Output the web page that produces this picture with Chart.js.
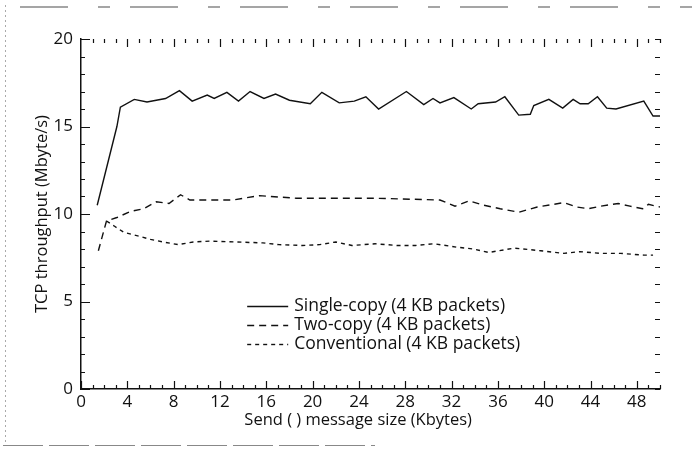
<!DOCTYPE html>
<html>
<head>
<meta charset="utf-8">
<script src="https://cdn.jsdelivr.net/npm/chart.js@4.4.1/dist/chart.umd.min.js"></script>
<style>
  html, body { margin: 0; padding: 0; background: #fff; }
  canvas { display: block; }
</style>
</head>
<body>
<canvas id="myChart" width="692" height="449"></canvas>
<script>
// values (x in Kbytes, y in Mbyte/s)
const singleX = [1.4, 3.1, 3.4, 4.6, 5.7, 7.3, 8.5, 9.6, 10.9, 11.5, 12.6, 13.6, 14.6, 15.8, 16.8, 18.0, 19.8, 20.8, 22.3, 23.6, 24.6, 25.7, 28.1, 29.6, 30.4, 31.0, 32.2, 33.7, 34.3, 35.8, 36.6, 37.8, 38.8, 39.1, 40.4, 41.6, 42.5, 43.1, 43.8, 44.6, 45.4, 46.2, 48.6, 49.4, 50.0];
const singleY = [10.5, 15.0, 16.1, 16.55, 16.4, 16.6, 17.05, 16.45, 16.8, 16.6, 16.95, 16.45, 17.0, 16.6, 16.85, 16.5, 16.3, 16.95, 16.35, 16.45, 16.7, 16.0, 17.0, 16.25, 16.6, 16.35, 16.65, 16.0, 16.3, 16.4, 16.7, 15.65, 15.7, 16.2, 16.55, 16.05, 16.55, 16.3, 16.3, 16.7, 16.05, 16.0, 16.45, 15.6, 15.6];

const twoX = [1.5, 2.2, 3.1, 4.3, 5.4, 6.5, 7.6, 8.6, 9.4, 13.1, 15.4, 18.6, 25.4, 31.0, 32.3, 33.5, 34.8, 36.2, 37.8, 39.4, 41.7, 42.8, 43.8, 44.9, 46.4, 47.4, 48.5, 49.0, 50.0];
const twoY = [7.9, 9.6, 9.8, 10.15, 10.3, 10.7, 10.6, 11.1, 10.8, 10.8, 11.05, 10.9, 10.9, 10.8, 10.45, 10.75, 10.5, 10.3, 10.1, 10.4, 10.65, 10.4, 10.3, 10.45, 10.6, 10.45, 10.3, 10.55, 10.4];

const convX = [2.2, 2.9, 3.7, 4.9, 6.0, 7.1, 8.4, 9.7, 11.1, 13.4, 15.7, 17.1, 19.1, 20.6, 22.0, 23.4, 25.4, 27.3, 28.9, 30.5, 32.5, 33.9, 35.2, 37.4, 39.7, 41.7, 43.1, 44.9, 46.6, 48.6, 49.4];
const convY = [9.6, 9.3, 8.95, 8.75, 8.55, 8.4, 8.25, 8.4, 8.45, 8.4, 8.35, 8.25, 8.2, 8.25, 8.4, 8.2, 8.3, 8.2, 8.2, 8.3, 8.1, 8.0, 7.8, 8.05, 7.9, 7.75, 7.85, 7.75, 7.75, 7.65, 7.65];

const seriesNames = ["Single-copy (4 KB packets)", "Two-copy (4 KB packets)", "Conventional (4 KB packets)"];
const xTicks = [0, 4, 8, 12, 16, 20, 24, 28, 32, 36, 40, 44, 48];
const yTicks = [0, 5, 10, 15, 20];

const ink = "#111";
const family = "'Open Sans', 'Noto Sans', sans-serif";
const tickFont = { family: family, size: 17 };
const titleFont = { family: family, size: 16.5 };
const legendSize = 17.5;

const pts = (xs, ys) => xs.map((x, i) => ({ x: x, y: ys[i] }));

function line(label, xs, ys, dash) {
  return {
    label: label,
    data: pts(xs, ys),
    borderColor: ink,
    borderWidth: 1.4,
    borderDash: dash,
    pointRadius: 0,
    tension: 0,
    fill: false,
  };
}

// little inward ticks on all four sides, like the original frame
const frameTicks = {
  id: "frameTicks",
  afterDraw(chart) {
    const { ctx, chartArea: a, scales: { x, y } } = chart;
    ctx.save();
    ctx.strokeStyle = ink;
    ctx.lineWidth = 1.2;
    ctx.beginPath();
    for (let v = 0; v <= 50; v++) {
      const px = Math.round(x.getPixelForValue(v)) + 0.5;
      const len = v % 4 === 0 ? 8 : 4;
      ctx.moveTo(px, a.bottom); ctx.lineTo(px, a.bottom - len);
      if (v > 0) { ctx.moveTo(px, a.top); ctx.lineTo(px, a.top + len); }
    }
    for (let v = 0; v <= 20; v++) {
      const py = Math.round(y.getPixelForValue(v)) + 0.5;
      const len = v % 5 === 0 ? 9 : 4;
      ctx.moveTo(a.left, py); ctx.lineTo(a.left + len, py);
      ctx.moveTo(a.right, py); ctx.lineTo(a.right - 5, py);
    }
    ctx.stroke();
    ctx.restore();
  }
};

// legend with line samples, drawn inside the plot
const lineLegend = {
  id: "lineLegend",
  afterDraw(chart) {
    const { ctx, chartArea: a } = chart;
    const x0 = a.left + 0.287 * (a.right - a.left);
    const y0 = a.top + 0.7625 * (a.bottom - a.top);
    ctx.save();
    ctx.font = `${legendSize}px ${family}`;
    ctx.fillStyle = ink;
    ctx.textBaseline = "middle";
    chart.data.datasets.forEach((ds, i) => {
      const yy = Math.round(y0 + i * 19) + 0.5;
      ctx.strokeStyle = ink;
      ctx.lineWidth = ds.borderWidth;
      ctx.setLineDash(ds.borderDash || []);
      ctx.beginPath();
      ctx.moveTo(x0, yy); ctx.lineTo(x0 + 41, yy);
      ctx.stroke();
      ctx.fillText(ds.label, x0 + 47, yy);
    });
    ctx.restore();
  }
};

// faint page-edge marks from the scan
const pageEdges = {
  id: "pageEdges",
  beforeDraw(chart) {
    const { ctx } = chart;
    ctx.save();
    ctx.strokeStyle = "#aaa";
    ctx.lineWidth = 1;
    ctx.setLineDash([2, 3]);
    ctx.beginPath(); ctx.moveTo(5.5, 5); ctx.lineTo(5.5, 445); ctx.stroke();
    ctx.strokeStyle = "#888";
    ctx.lineWidth = 1.5;
    ctx.setLineDash([48, 30, 12, 20]);
    ctx.beginPath(); ctx.moveTo(20, 7); ctx.lineTo(692, 7); ctx.stroke();
    ctx.lineWidth = 1;
    ctx.setLineDash([40, 6]);
    ctx.beginPath(); ctx.moveTo(3, 445.5); ctx.lineTo(375, 445.5); ctx.stroke();
    ctx.restore();
  }
};

const ctx = document.getElementById("myChart");

new Chart(ctx, {
  type: "line",
  data: {
    datasets: [
      line(seriesNames[0], singleX, singleY, []),
      line(seriesNames[1], twoX, twoY, [7, 5]),
      line(seriesNames[2], convX, convY, [4, 4]),
    ],
  },
  options: {
    responsive: false,
    animation: false,
    layout: {
      padding: { top: 39, right: 32, left: 0, bottom: 0 },
    },
    scales: {
      x: {
        type: "linear",
        min: 0,
        max: 50,
        afterBuildTicks: (s) => { s.ticks = xTicks.map((v) => ({ value: v })); },
        afterFit: (s) => { s.height = 60; },
        grid: { display: true, drawOnChartArea: false, drawTicks: false },
        border: { color: ink, width: 1.5 },
        ticks: { color: ink, font: tickFont, padding: 3, maxRotation: 0 },
        title: {
          display: true,
          // trailing spaces nudge the centred title left, as in the original
          text: "Send ( ) message size (Kbytes)\u2003\u2002",
          color: ink,
          font: titleFont,
          padding: { top: 0, bottom: 19 },
        },
      },
      y: {
        min: 0,
        max: 20,
        afterBuildTicks: (s) => { s.ticks = yTicks.map((v) => ({ value: v })); },
        afterFit: (s) => { s.width = 81; },
        grid: { display: true, drawOnChartArea: false, drawTicks: false },
        border: { color: ink, width: 1.5 },
        ticks: { color: ink, font: tickFont, padding: 8 },
        title: {
          display: true,
          text: "TCP throughput (Mbyte/s)",
          color: ink,
          font: titleFont,
          padding: { top: 32, bottom: 0 },
        },
      },
    },
    plugins: {
      legend: { display: false },
      tooltip: { enabled: false },
    },
  },
  plugins: [pageEdges, frameTicks, lineLegend],
});
</script>
</body>
</html>
